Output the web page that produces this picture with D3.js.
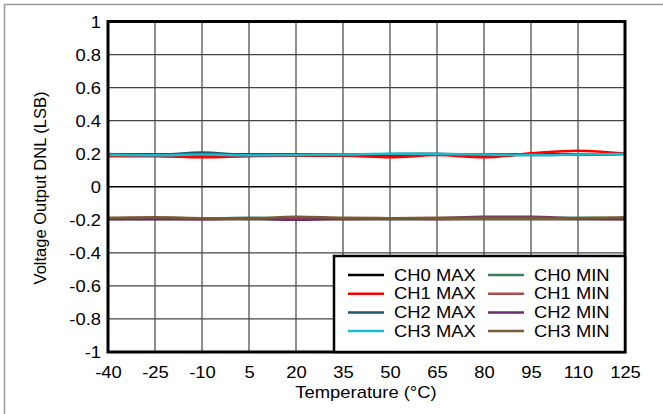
<!DOCTYPE html>
<html>
<head>
<meta charset="utf-8">
<script src="https://cdn.jsdelivr.net/npm/d3@7"></script>
<style>
  body { margin: 0; background: #fff; }
  text { font-family: "Liberation Sans", Arial, sans-serif; fill: #000; }
</style>
</head>
<body>
<svg></svg>
<script>
'use strict';

var temps = [-40, -25, -10, 5, 20, 35, 50, 65, 80, 95, 110, 125];
var yTicks = [1, 0.8, 0.6, 0.4, 0.2, 0, -0.2, -0.4, -0.6, -0.8, -1];

var ch0Max = [0.190, 0.190, 0.195, 0.190, 0.190, 0.190, 0.195, 0.195, 0.190, 0.195, 0.195, 0.200];
var ch1Max = [0.185, 0.185, 0.178, 0.185, 0.188, 0.188, 0.178, 0.192, 0.178, 0.202, 0.218, 0.200];
var ch2Max = [0.198, 0.192, 0.208, 0.192, 0.192, 0.192, 0.198, 0.200, 0.192, 0.192, 0.195, 0.198];
var ch3Max = [0.192, 0.190, 0.195, 0.190, 0.192, 0.195, 0.200, 0.198, 0.195, 0.192, 0.195, 0.198];
var ch0Min = [-0.192, -0.190, -0.192, -0.188, -0.190, -0.192, -0.190, -0.192, -0.190, -0.190, -0.188, -0.190];
var ch1Min = [-0.192, -0.192, -0.195, -0.192, -0.192, -0.195, -0.192, -0.195, -0.192, -0.192, -0.192, -0.192];
var ch2Min = [-0.195, -0.195, -0.195, -0.192, -0.200, -0.192, -0.192, -0.190, -0.182, -0.182, -0.192, -0.195];
var ch3Min = [-0.188, -0.185, -0.190, -0.192, -0.182, -0.188, -0.190, -0.188, -0.188, -0.188, -0.190, -0.185];

var seriesNames = ['CH0 MAX', 'CH1 MAX', 'CH2 MAX', 'CH3 MAX', 'CH0 MIN', 'CH1 MIN', 'CH2 MIN', 'CH3 MIN'];
var seriesColors = ['#000000', '#ff0000', '#1b5a6a', '#17bccd', '#3a7d5c', '#b24c4c', '#6c2c70', '#7a5a33'];

function render() {
    var d3 = window.d3;
    var w = 663, h = 414;
    var left = 108, right = 625, top = 21.5, bottom = 352;
    var sx = 1.15; // horizontal stretch of the text in the original
    var plain = function (d) { return String(d); }; // keep ascii hyphen minus

    var svg = d3.select('svg').attr('width', w).attr('height', h);
    var allSeries = [ch0Max, ch1Max, ch2Max, ch3Max, ch0Min, ch1Min, ch2Min, ch3Min];

    // outer frame
    svg.append('rect').attr('x', 4.5).attr('y', 4.5).attr('width', 670).attr('height', 420)
        .attr('fill', 'none').attr('stroke', '#9a9a9a').attr('stroke-width', 1.5);

    var x = d3.scaleLinear().domain([-40, 125]).range([left, right]);
    var y = d3.scaleLinear().domain([-1, 1]).range([bottom, top]);

    // grid
    svg.append('g').selectAll('line').data(temps.slice(1, -1)).enter().append('line')
        .attr('x1', function (d) { return x(d); }).attr('x2', function (d) { return x(d); })
        .attr('y1', top).attr('y2', bottom)
        .attr('stroke', '#444').attr('stroke-width', 1.2);
    svg.append('g').selectAll('line').data(yTicks.slice(1, -1)).enter().append('line')
        .attr('x1', left).attr('x2', right)
        .attr('y1', function (d) { return y(d); }).attr('y2', function (d) { return y(d); })
        .attr('stroke', function (d) { return d === 0 ? '#000' : '#444'; })
        .attr('stroke-width', function (d) { return d === 0 ? 1.5 : 1.2; });

    // axes (labels only)
    var xAxis = svg.append('g').attr('transform', 'translate(0,' + bottom + ')')
        .call(d3.axisBottom(x).tickValues(temps).tickSize(0).tickPadding(0).tickFormat(plain));
    xAxis.select('.domain').remove();
    xAxis.selectAll('text').attr('y', 26).attr('dy', 0).attr('font-size', 16)
        .attr('transform', 'scale(' + sx + ',1)');

    var yAxis = svg.append('g').attr('transform', 'translate(' + left + ',0)')
        .call(d3.axisLeft(y).tickValues(yTicks).tickSize(0).tickPadding(0).tickFormat(plain));
    yAxis.select('.domain').remove();
    yAxis.selectAll('text').attr('x', -7 / sx).attr('dy', '0.36em').attr('font-size', 16)
        .attr('transform', 'scale(' + sx + ',1)');

    // series
    var line = d3.line()
        .x(function (d, i) { return x(temps[i]); })
        .y(function (d) { return y(d); })
        .curve(d3.curveMonotoneX);
    var order = [4, 5, 6, 7, 0, 1, 2, 3];
    svg.append('g').selectAll('path').data(order).enter().append('path')
        .attr('d', function (k) { return line(allSeries[k]); })
        .attr('fill', 'none')
        .attr('stroke', function (k) { return seriesColors[k]; })
        .attr('stroke-width', 2.5);

    // plot border
    svg.append('rect').attr('x', left).attr('y', top).attr('width', right - left).attr('height', bottom - top)
        .attr('fill', 'none').attr('stroke', '#000').attr('stroke-width', 3);

    // legend
    var lg = svg.append('g');
    lg.append('rect').attr('x', 334).attr('y', 256).attr('width', right - 334).attr('height', bottom - 256)
        .attr('fill', '#fff').attr('stroke', '#000').attr('stroke-width', 2.5);
    seriesNames.forEach(function (name, k) {
        var col = Math.floor(k / 4), row = k % 4;
        var lx = 348 + col * 140, ly = 275 + row * 18.7;
        lg.append('line').attr('x1', lx).attr('x2', lx + 36).attr('y1', ly).attr('y2', ly)
            .attr('stroke', seriesColors[k]).attr('stroke-width', 2.5);
        lg.append('text').attr('x', (lx + 46) / sx).attr('y', ly).attr('dy', '0.36em')
            .attr('font-size', 16).attr('transform', 'scale(' + sx + ',1)').text(name);
    });

    // axis titles
    svg.append('text').attr('x', 366 / sx).attr('y', 398).attr('text-anchor', 'middle')
        .attr('font-size', 16).attr('transform', 'scale(' + sx + ',1)').text('Temperature (°C)');
    svg.append('text').attr('transform', 'translate(46,188) rotate(-90)').attr('text-anchor', 'middle')
        .attr('font-size', 16.5).text('Voltage Output DNL (LSB)');
}

render();
</script>
</body>
</html>
